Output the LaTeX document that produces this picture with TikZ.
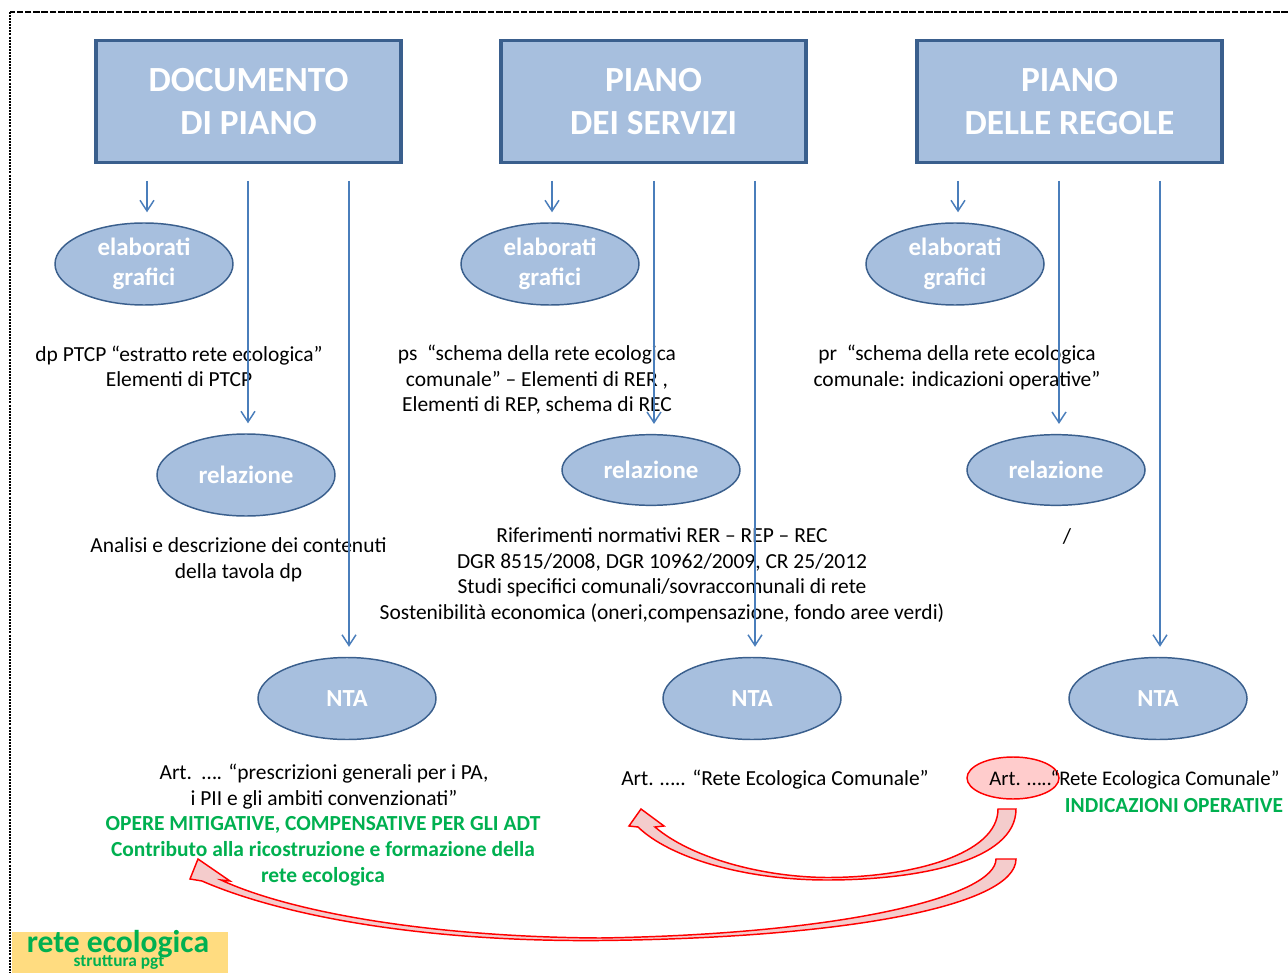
\documentclass[tikz,border=0pt]{standalone}
\usepackage{fontspec}
\setmainfont{Carlito}
\usetikzlibrary{shapes.geometric,arrows.meta}
\definecolor{boxfill}{RGB}{167,191,222}
\definecolor{boxline}{RGB}{58,95,141}
\definecolor{arrblue}{RGB}{74,126,187}
\definecolor{ogreen}{RGB}{0,176,80}
\definecolor{labelbg}{RGB}{255,220,128}
\definecolor{pinkfill}{RGB}{244,204,204}
\definecolor{redfill}{RGB}{255,204,204}
\begin{document}
\begin{tikzpicture}[x=0.75pt,y=-0.75pt,
 header/.style={draw=boxline, line width=2.3pt, fill=boxfill, minimum width=228.75pt, minimum height=91.5pt, inner sep=0pt, align=center, text=white, font=\fontsize{26.5}{32.2}\selectfont\bfseries},
 oval/.style={ellipse, draw=boxline, line width=1.1pt, fill=boxfill, minimum width=133.5pt, minimum height=61.5pt, inner sep=0pt, align=center, text=white, font=\fontsize{18.7}{22.5}\selectfont\bfseries},
 flatoval/.style={oval, minimum height=53pt},
 ntaoval/.style={oval, font=\fontsize{18.4}{22}\selectfont\bfseries},
 body/.style={align=center, inner sep=0pt, font=\fontsize{16.1}{19.2}\selectfont},
 gbody/.style={align=center, inner sep=0pt, text=ogreen, font=\fontsize{16.1}{19.5}\selectfont\bfseries},
 arr/.style={draw=arrblue, line width=1.1pt, -{Straight Barb[length=8pt,width=10.5pt]}, shorten >=7.5pt},
 bigarrow/.style={draw=red, line width=1.1pt, fill=pinkfill, line join=miter},
 border/.style={line width=1pt}
]
\fill[white] (0,0) rectangle (1288,973);
\useasboundingbox (0,0) rectangle (1288,973);

% frame
\draw[border, dash pattern=on 5pt off 1.2pt] (1288,12) -- (10,12);
\draw[border, dash pattern=on 1.5pt off 0.8pt] (10,12) -- (10,973);

% headers
\node[header] (dp) at (248.5,101.5) {DOCUMENTO\\DI PIANO};
\node[header] (ps) at (653.5,101.5) {PIANO\\DEI SERVIZI};
\node[header] (pr) at (1069.5,101.5) {PIANO\\DELLE REGOLE};

% ellipses
\node[oval] (eg1) at (144,264) {elaborati\\grafici};
\node[oval] (eg2) at (550,264) {elaborati\\grafici};
\node[oval] (eg3) at (955,264) {elaborati\\grafici};
\node[oval] (rel1) at (246,475) {relazione};
\node[flatoval] (rel2) at (651,470) {relazione};
\node[flatoval] (rel3) at (1056,470) {relazione};
\node[ntaoval] (nta1) at (347,698.5) {NTA};
\node[ntaoval] (nta2) at (752,698.5) {NTA};
\node[ntaoval] (nta3) at (1158,698.5) {NTA};

% texts
\node[body] (t1) at (179,366.5) {dp PTCP “estratto rete ecologica”\\Elementi di PTCP};
\node[body] (t2) at (537,380) {ps\ \ “schema della rete ecologica\\comunale” – Elementi di RER ,\\Elementi di REP, schema di REC};
\node[body] (t3) at (957,367.5) {pr\ \ “schema della rete ecologica\\comunale: indicazioni operative”};
\node[body] (t4) at (238.5,560) {Analisi e descrizione dei contenuti\\della tavola dp};
\node[body] (t5) at (662,575.5) {Riferimenti normativi RER – REP – REC\\DGR 8515/2008, DGR 10962/2009, CR 25/2012\\Studi specifici comunali/sovraccomunali di rete\\Sostenibilità economica (oneri,compensazione, fondo aree verdi)};
\node[body] (t6) at (1067,537) {/};
\node[body] (t7) at (324,786.5) {Art.\ \ …. “prescrizioni generali per i PA,\\i PII e gli ambiti convenzionati”};
\node[gbody] (t8) at (323,851.5) {OPERE MITIGATIVE, COMPENSATIVE PER GLI ADT\\Contributo alla ricostruzione e formazione della\\rete ecologica};
\node[body] (t9) at (775,780) {Art. ….. “Rete Ecologica Comunale”};
\node[ellipse, draw=red, line width=1.1pt, fill=redfill, minimum width=69pt, minimum height=31.5pt, inner sep=0pt] (artE) at (1013,778) {};
\node[body, anchor=west, font=\fontsize{15.6}{19}\selectfont] (t10) at (989,780) {Art. …..\kern-1pt “Rete Ecologica Comunale”};
\node[gbody] (t11) at (1174,805.5) {INDICAZIONI OPERATIVE};

% blue arrows
\coordinate (a11) at (147,181); \coordinate (a12) at (248,181); \coordinate (a13) at (349,181);
\coordinate (a21) at (552,181); \coordinate (a22) at (654,181); \coordinate (a23) at (755,181);
\coordinate (a31) at (958,181); \coordinate (a32) at (1059,181); \coordinate (a33) at (1160,181);
\draw[arr] (a11) -- (a11 |- eg1.north);
\draw[arr] (a12) -- (a12 |- rel1.north);
\draw[arr] (a13) -- (a13 |- nta1.north);
\draw[arr] (a21) -- (a21 |- eg2.north);
\draw[arr] (a22) -- (a22 |- rel2.north);
\draw[arr] (a23) -- (a23 |- nta2.north);
\draw[arr] (a31) -- (a31 |- eg3.north);
\draw[arr] (a32) -- (a32 |- rel3.north);
\draw[arr] (a33) -- (a33 |- nta3.north);

% curved block arrows
\draw[bigarrow] (998,809) -- (1016,809) .. controls (1016,862) and (915,880) .. (827,880)
  .. controls (745,880) and (670,858) .. (638,827) -- (629,826) -- (641,809) -- (664,826) -- (655,827)
  .. controls (690,857) and (760,877) .. (827,877.5) .. controls (910,877.5) and (998,855) .. (998,809) -- cycle;
\draw[bigarrow] (996,859) -- (1016,859) .. controls (1016,905) and (850,938) .. (600,940.5)
  .. controls (420,942) and (280,915) .. (202,881) -- (190,879) -- (198,859) -- (230,881) -- (221,880)
  .. controls (290,912) and (430,937) .. (600,938) .. controls (850,934) and (996,895) .. (996,859) -- cycle;

% label
\fill[labelbg] (12,932) rectangle (228,973);
\node[inner sep=0pt, text=ogreen, font=\fontsize{23.7}{26}\selectfont\bfseries] (lab1) at (118,944.5) {rete ecologica};
\node[inner sep=0pt, text=ogreen, font=\fontsize{13}{15}\selectfont\bfseries] (lab2) at (119,962.5) {struttura pgt};
\end{tikzpicture}
\end{document}
